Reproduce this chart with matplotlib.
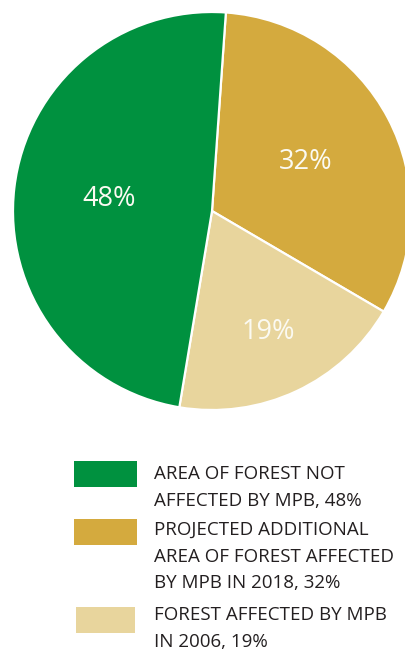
import numpy as np
import matplotlib
matplotlib.use("Agg")
import matplotlib.pyplot as plt
from matplotlib.patches import Rectangle

# slice values, drawn clockwise starting just right of 12 o'clock
labels = ["PROJECTED ADDITIONAL\nAREA OF FOREST AFFECTED\nBY MPB IN 2018, 32%",
          "FOREST AFFECTED BY MPB\nIN 2006, 19%",
          "AREA OF FOREST NOT\nAFFECTED BY MPB, 48%"]
values = [32, 19, 48]
pct_text = ["32%", "19%", "48%"]
colors = ["#d4aa3e", "#e8d59d", "#00913f"]
label_r = [0.53, 0.67, 0.52]

# legend order (top to bottom)
legend_order = [2, 0, 1]

plt.rcParams["font.family"] = ["Open Sans", "DejaVu Sans"]

W, H = 406, 650
fig = plt.figure(figsize=(W / 100, H / 100), dpi=100)
fig.patch.set_facecolor("white")

# pie axes: centre ~ (212, 211) px, radius ~199 px
cx, cy, r = 212, 211, 199
ax = fig.add_axes([(cx - r) / W, (H - cy - r) / H, 2 * r / W, 2 * r / H])
wedges, _ = ax.pie(values, colors=colors, startangle=86, counterclock=False,
                   wedgeprops=dict(edgecolor="white", linewidth=1.6))
for w, txt, rr in zip(wedges, pct_text, label_r):
    th = np.deg2rad((w.theta1 + w.theta2) / 2)
    ax.text(rr * np.cos(th), rr * np.sin(th), txt, color="#fbfaf2",
            fontsize=19.5, ha="center", va="center")
ax.set_xlim(-1, 1)
ax.set_ylim(-1, 1)
ax.set_aspect("equal")
ax.axis("off")

# legend drawn in pixel space
box_x, box_w = 74, 63
box_tops = [461, 519, 607]
text_x = 154
first_baseline = [479, 535, 620]
line_step = 26.7
for k, i in enumerate(legend_order):
    y0 = box_tops[k]
    bw = box_w if k < 2 else 59
    bx = box_x if k < 2 else 76
    fig.patches.append(Rectangle((bx / W, 1 - (y0 + 26) / H), bw / W, 26 / H,
                                 transform=fig.transFigure,
                                 facecolor=colors[i], edgecolor="none"))
    for j, line in enumerate(labels[i].split("\n")):
        yb = first_baseline[k] + j * line_step
        fig.text(text_x / W, 1 - yb / H, line, fontsize=13.5,
                 color="#231f20", ha="left", va="baseline")

fig.savefig("out.png", dpi=100)
